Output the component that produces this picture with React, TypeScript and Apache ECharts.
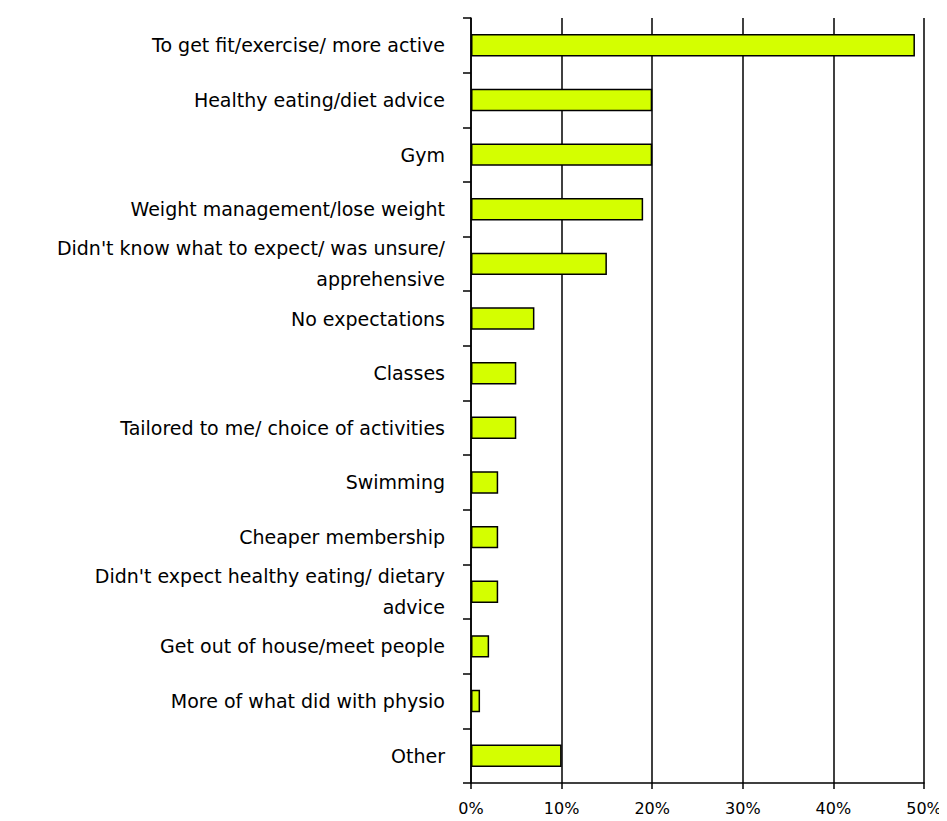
import React, { useEffect, useRef } from "react";
import * as echarts from "echarts";

const categories = [
  "To get fit/exercise/ more active",
  "Healthy eating/diet advice",
  "Gym",
  "Weight management/lose weight",
  "Didn't know what to expect/ was unsure/\napprehensive",
  "No expectations",
  "Classes",
  "Tailored to me/ choice of activities",
  "Swimming",
  "Cheaper membership",
  "Didn't expect healthy eating/ dietary\nadvice",
  "Get out of house/meet people",
  "More of what did with physio",
  "Other",
];
const values = [49, 20, 20, 19, 15, 7, 5, 5, 3, 3, 3, 2, 1, 10];
const xTicks = [0, 10, 20, 30, 40, 50];

export default function App() {
  const ref = useRef<HTMLDivElement>(null);
  useEffect(() => {
    if (!ref.current) return;
    const chart = echarts.init(ref.current, null, { renderer: "svg" });
    const font = "'DejaVu Sans', sans-serif";
    chart.setOption({
      animation: false,
      backgroundColor: "#ffffff",
      grid: { left: 463, right: 23, top: 10, bottom: 38, containLabel: false },
      xAxis: {
        type: "value",
        min: xTicks[0],
        max: xTicks[xTicks.length - 1],
        interval: 10,
        axisLine: { show: true, lineStyle: { color: "#000", width: 1.5 } },
        axisTick: { show: true, length: 6, lineStyle: { color: "#000", width: 1.5 } },
        splitLine: { show: true, lineStyle: { color: "#000", width: 1.5 } },
        axisLabel: {
          formatter: "{value}%",
          color: "#000",
          fontFamily: font,
          fontSize: 16,
          margin: 17,
        },
      },
      yAxis: {
        type: "category",
        inverse: true,
        data: categories,
        axisLine: { show: true, onZero: false, lineStyle: { color: "#000", width: 1.5 } },
        axisTick: { show: true, length: 8, inside: false, lineStyle: { color: "#000", width: 1.5 } },
        axisLabel: {
          color: "#000",
          fontFamily: font,
          fontSize: 19,
          margin: 26,
          lineHeight: 31,
          align: "right",
        },
      },
      series: [
        {
          type: "bar",
          data: values,
          barWidth: "41%",
          itemStyle: { color: "#d4ff00", borderColor: "#000", borderWidth: 1.5 },
        },
      ],
    });
    return () => chart.dispose();
  }, []);
  return <div ref={ref} style={{ width: 939, height: 813 }} />;
}
